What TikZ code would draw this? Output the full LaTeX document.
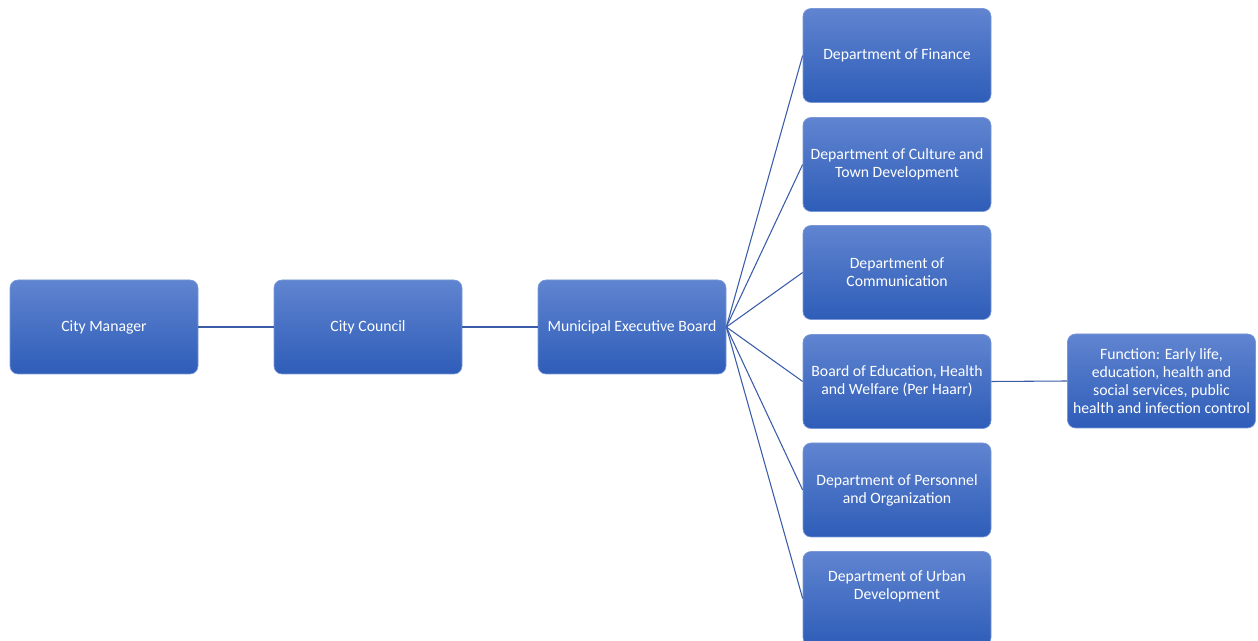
\documentclass[tikz,border=0pt]{standalone}
\usepackage{fontspec}
\setmainfont{Carlito}
\definecolor{boxtop}{HTML}{6084D0}
\definecolor{boxbot}{HTML}{2E5DB8}
\definecolor{boxedge}{HTML}{7A98D8}
\definecolor{linkcol}{HTML}{3B5CA8}
\begin{document}
\begin{tikzpicture}[x=0.75pt,y=-0.75pt,
  boxfont/.style={font=\fontsize{11.8}{13.5}\selectfont},
  orgbox/.style={rectangle, rounded corners=6pt, minimum width=141pt, minimum height=70.5pt,
    top color=boxtop, bottom color=boxbot, draw=boxedge, line width=0.5pt,
    text=white, align=center, boxfont, inner sep=1pt},
  link/.style={draw=linkcol, line width=0.8pt}]
\useasboundingbox (0,0) rectangle (1258,641);
\node[orgbox] (cm) at (104,327) {City Manager};
\node[orgbox] (cc) at (368,327) {City Council};
\node[orgbox] (meb) at (632,327) {Municipal Executive Board};
\node[orgbox] (fin) at (897,55.5) {Department of Finance};
\node[orgbox] (cul) at (897,164.5) {Department of Culture and\\Town Development};
\node[orgbox] (com) at (897,272.5) {Department of\\Communication};
\node[orgbox] (edu) at (897,381.5) {Board of Education, Health\\and Welfare (Per Haarr)};
\node[orgbox] (per) at (897,490) {Department of Personnel\\and Organization};
\node[orgbox, label={[text=white, align=center, boxfont, yshift=9pt]center:Department of Urban\\Development}] (urb) at (897,598.5) {};
\node[orgbox] (fun) at (1161.5,381) {Function: Early life,\\education, health and\\social services, public\\health and infection control};
\draw[link] (cm.east) -- (cc.west);
\draw[link] (cc.east) -- (meb.west);
\foreach \n in {fin,cul,com,edu,per,urb} {\draw[link] (meb.east) -- (\n.west);}
\draw[link] (edu.east) -- (fun.west);
\end{tikzpicture}
\end{document}
